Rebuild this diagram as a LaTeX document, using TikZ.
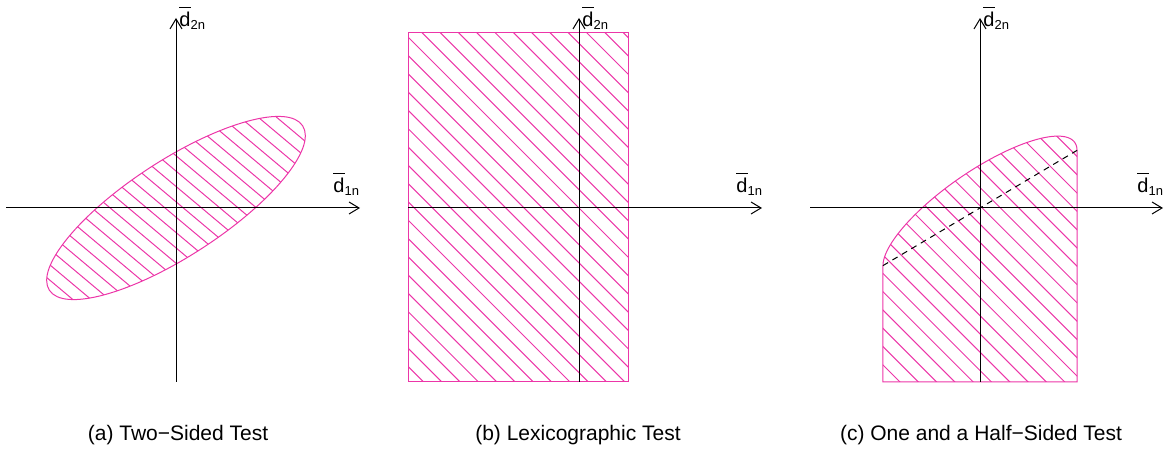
\documentclass[tikz,border=0pt]{standalone}
\usepackage{amsmath}
\usepackage{fontspec}
\setmainfont{Liberation Sans}
\usetikzlibrary{arrows.meta}
\definecolor{hatchpink}{RGB}{236,54,168}

\begin{document}
\begin{tikzpicture}[
  x=0.5pt, y=0.5pt,
  axis/.style={-{Straight Barb[length=5pt, width=6pt]}, line width=0.5pt, black},
  outline/.style={draw=hatchpink, line width=0.5pt},
  hatch/.style={hatchpink, line width=0.5pt},
  bound/.style={dash pattern=on 3pt off 2.5pt, line width=0.5pt, black},
  axlabel/.style={anchor=base west, inner sep=0pt, font=\fontsize{10}{12}\selectfont},
  caption/.style={anchor=base, inner sep=0pt, font=\fontsize{10.5}{12}\selectfont}
]
\useasboundingbox (0,0) rectangle (1175,450);

% (a) Two-Sided Test
\begin{scope}[shift={(176,242)}]
  \begin{scope}
    \clip[rotate=33] (0,0) ellipse [x radius=151, y radius=48];
    \foreach \k in {-20,...,20}
      \draw[hatch] (7.4+18.3*\k,0) ++(140:300) -- ++(-40:600);
  \end{scope}
  \draw[outline, rotate=33] (0,0) ellipse [x radius=151, y radius=48];
  \coordinate (a-west) at (-170,0);
  \coordinate (a-east) at (184,0);
  \coordinate (a-south) at (0,-174);
  \coordinate (a-north) at (0,190);
  \draw[axis] (a-west) -- (a-east);
  \draw[axis] (a-south) -- (a-north);
  \node[axlabel] (a-d1) at (157,15) {$\overline{\text{d}\rule{0pt}{8.6pt}}_{\text{\fontsize{6.5}{7}\selectfont 1n}}$};
  \node[axlabel] (a-d2) at (3,181) {$\overline{\text{d}\rule{0pt}{8.6pt}}_{\text{\fontsize{6.5}{7}\selectfont 2n}}$};
  \node[caption] (a-cap) at (2,-233) {(a) Two−Sided Test};
\end{scope}

% (b) Lexicographic Test
\begin{scope}[shift={(579,242)}]
  \begin{scope}
    \clip (-171,-174) rectangle (49,175);
    \foreach \k in {-20,...,20}
      \draw[hatch] (18.3*\k,0) ++(135:400) -- ++(-45:800);
  \end{scope}
  \draw[outline] (-171,-174) rectangle (49,175);
  \coordinate (b-west) at (-171,0);
  \coordinate (b-east) at (183,0);
  \coordinate (b-south) at (0,-174);
  \coordinate (b-north) at (0,190);
  \draw[axis] (b-west) -- (b-east);
  \draw[axis] (b-south) -- (b-north);
  \node[axlabel] (b-d1) at (157,15) {$\overline{\text{d}\rule{0pt}{8.6pt}}_{\text{\fontsize{6.5}{7}\selectfont 1n}}$};
  \node[axlabel] (b-d2) at (3,181) {$\overline{\text{d}\rule{0pt}{8.6pt}}_{\text{\fontsize{6.5}{7}\selectfont 2n}}$};
  \node[caption] (b-cap) at (-1,-233) {(b) Lexicographic Test};
\end{scope}

% (c) One and a Half-Sided Test
\begin{scope}[shift={(980,242)}]
  \begin{scope}
    \clip (-97.03,-174) -- plot[domain=167.77:-12.23, samples=80, smooth, variable=\t]
      ({94.83*cos(\t)-20.56*sin(\t)}, {65.42*cos(\t)+29.80*sin(\t)}) -- (97.03,-174) -- cycle;
    \foreach \k in {-20,...,20}
      \draw[hatch] (2.2+18.3*\k,0) ++(135:400) -- ++(-45:800);
  \end{scope}
  \draw[outline] (-97.03,-174) -- plot[domain=167.77:-12.23, samples=80, smooth, variable=\t]
      ({94.83*cos(\t)-20.56*sin(\t)}, {65.42*cos(\t)+29.80*sin(\t)}) -- (97.03,-174) -- cycle;
  \coordinate (c-left) at (-97.03,-57.62);
  \coordinate (c-right) at (97.03,57.62);
  \draw[bound] (c-left) -- (c-right);
  \coordinate (c-west) at (-170,0);
  \coordinate (c-east) at (183,0);
  \coordinate (c-south) at (0,-174);
  \coordinate (c-north) at (0,190);
  \draw[axis] (c-west) -- (c-east);
  \draw[axis] (c-south) -- (c-north);
  \node[axlabel] (c-d1) at (157,15) {$\overline{\text{d}\rule{0pt}{8.6pt}}_{\text{\fontsize{6.5}{7}\selectfont 1n}}$};
  \node[axlabel] (c-d2) at (3,181) {$\overline{\text{d}\rule{0pt}{8.6pt}}_{\text{\fontsize{6.5}{7}\selectfont 2n}}$};
  \node[caption] (c-cap) at (1,-233) {(c) One and a Half−Sided Test};
\end{scope}

\end{tikzpicture}
\end{document}
